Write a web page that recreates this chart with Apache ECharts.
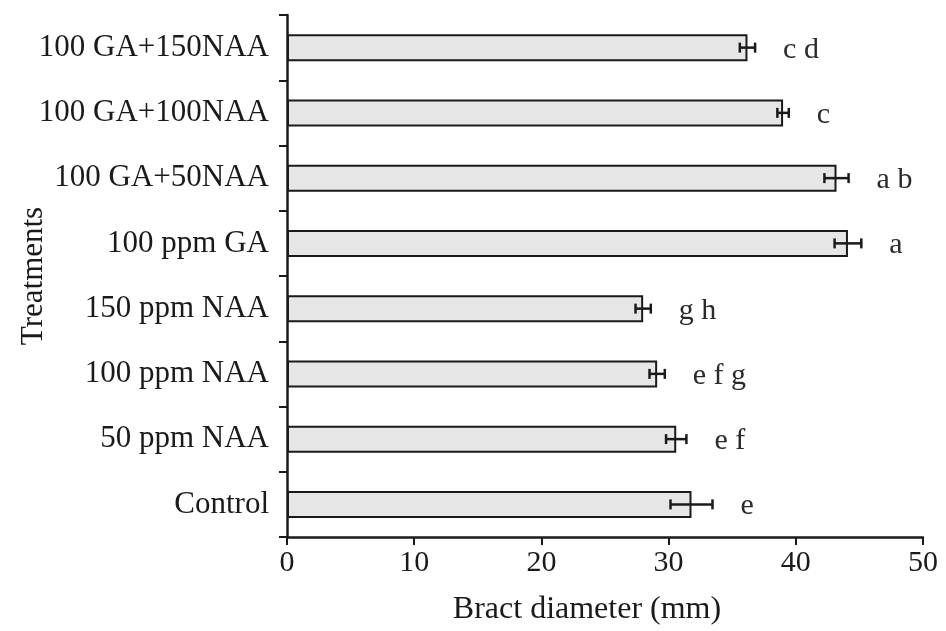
<!DOCTYPE html>
<html>
<head>
<meta charset="utf-8">
<style>
  html, body { margin: 0; padding: 0; background: #fff; }
  #chart { width: 946px; height: 631px; }
</style>
<script src="https://cdn.jsdelivr.net/npm/echarts@6/dist/echarts.min.js"></script>
</head>
<body>
<div id="chart"></div>
<script>
  // bottom to top, as drawn on the category axis
  var treatments = ['Control', '50 ppm NAA', '100 ppm NAA', '150 ppm NAA', '100 ppm GA', '100 GA+50NAA', '100 GA+100NAA', '100 GA+150NAA'];
  var bractDiameter = [31.8, 30.6, 29.1, 28.0, 44.1, 43.2, 39.0, 36.2];
  var stdError = [1.65, 0.8, 0.6, 0.6, 1.05, 0.95, 0.45, 0.6];
  var groupLetters = ['e', 'e f', 'e f g', 'g h', 'a', 'a b', 'c', 'c d'];
  var xTicks = [0, 10, 20, 30, 40, 50];

  var FONT = '"Liberation Serif", "Times New Roman", serif';
  var INK = '#1a1a1a';

  var errData = treatments.map(function (t, i) {
    return [i, bractDiameter[i] - stdError[i], bractDiameter[i] + stdError[i], groupLetters[i]];
  });

  function renderError(params, api) {
    var cat = api.value(0);
    var lo = api.coord([api.value(1), cat]);
    var hi = api.coord([api.value(2), cat]);
    var cap = 5;
    var style = { stroke: INK, lineWidth: 2.5 };
    return {
      type: 'group',
      children: [
        { type: 'line', shape: { x1: lo[0], y1: lo[1], x2: hi[0], y2: hi[1] }, style: style },
        { type: 'line', shape: { x1: lo[0], y1: lo[1] - cap, x2: lo[0], y2: lo[1] + cap }, style: style },
        { type: 'line', shape: { x1: hi[0], y1: hi[1] - cap, x2: hi[0], y2: hi[1] + cap }, style: style },
        {
          type: 'text',
          x: hi[0] + 28,
          y: hi[1] + 2,
          style: {
            text: errData[params.dataIndex][3],
            fill: '#2a2a2a',
            font: '30px ' + FONT,
            verticalAlign: 'middle',
            align: 'left'
          }
        }
      ]
    };
  }

  var chart = echarts.init(document.getElementById('chart'));
  chart.setOption({
    animation: false,
    textStyle: { fontFamily: FONT, color: INK },
    grid: { left: 287, right: 23, top: 15, bottom: 94, containLabel: false, outerBoundsMode: 'none' },
    xAxis: {
      type: 'value',
      min: xTicks[0],
      max: xTicks[xTicks.length - 1],
      interval: 10,
      name: 'Bract diameter (mm)',
      nameLocation: 'middle',
      nameGap: 57,
      nameMoveOverlap: false,
      nameTextStyle: { fontFamily: FONT, fontSize: 32, color: INK, padding: [0, 36, 0, 0] },
      axisLine: { show: true, lineStyle: { color: INK, width: 2.5 } },
      axisTick: { show: true, length: 8, lineStyle: { color: INK, width: 2 } },
      axisLabel: { fontFamily: FONT, fontSize: 30, color: INK, margin: 11 },
      splitLine: { show: false }
    },
    yAxis: {
      type: 'category',
      data: treatments,
      name: 'Treatments',
      nameLocation: 'middle',
      nameGap: 238,
      nameMoveOverlap: false,
      nameTextStyle: { fontFamily: FONT, fontSize: 31, color: INK },
      axisLine: { show: true, lineStyle: { color: INK, width: 2.5 } },
      axisTick: { show: true, length: 8, lineStyle: { color: INK, width: 2 } },
      axisLabel: { fontFamily: FONT, fontSize: 31, color: INK, margin: 18 }
    },
    series: [
      {
        type: 'bar',
        data: bractDiameter,
        barWidth: 27,
        itemStyle: { color: '#e6e6e6', borderColor: INK, borderWidth: 2 },
        z: 2
      },
      {
        type: 'custom',
        data: errData,
        renderItem: renderError,
        z: 3
      }
    ]
  });
</script>
</body>
</html>
